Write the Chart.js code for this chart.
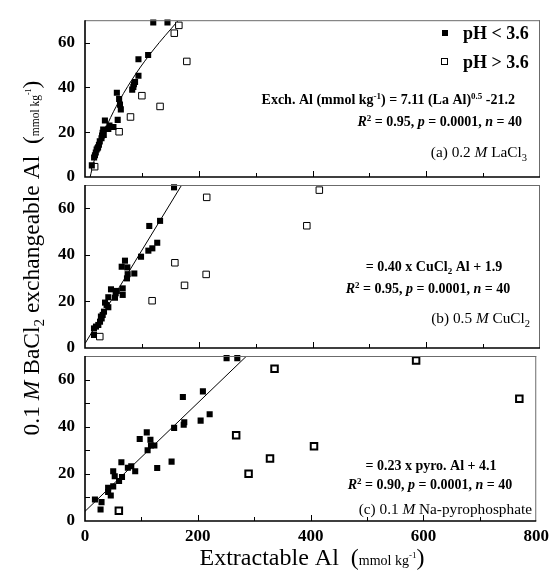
<!DOCTYPE html>
<html>
<head>
<meta charset="utf-8">
<script src="https://cdn.jsdelivr.net/npm/chart.js@4.4.0/dist/chart.umd.min.js"></script>
<style>
  body { margin: 0; background: #fff; }
  #wrap { position: relative; width: 554px; height: 572px; }
  #wrap canvas { position: absolute; left: 0; top: 0; }
</style>
</head>
<body>
<div id="wrap">
  <canvas id="chartA" width="554" height="572"></canvas>
  <canvas id="chartB" width="554" height="572"></canvas>
  <canvas id="chartC" width="554" height="572"></canvas>
</div>
<script>
// (a) 0.2 M LaCl3
const laDarkX = [120, 145, 111, 94, 94, 88, 86, 85, 83, 56, 60, 61.5, 63, 57.5, 35, 43, 50, 41, 32, 31, 33, 29, 26, 24.5, 23, 20.5, 19, 17.5, 16, 12, 30, 22];
const laDarkY = [69, 69, 54.5, 52.6, 45.2, 42.4, 41.4, 40.2, 39, 37.6, 34.8, 32.3, 30.2, 25.5, 25.2, 23, 22.3, 21.5, 21.2, 19.7, 18.8, 17.3, 15.9, 14.4, 13.3, 12.3, 10.9, 9.7, 8.7, 5.2, 18.5, 12.8];
const laOpenX = [165, 157, 179, 100, 132, 80, 60, 17];
const laOpenY = [67.7, 64.2, 51.6, 36.3, 31.5, 26.8, 20.2, 4.6];
const laFitX = [9, 15, 25, 40, 60, 90, 120, 163];
const laFitY = [0, 6.3, 14.4, 23.8, 33.9, 46.3, 56.7, 69.6];

// (b) 0.5 M CuCl2
const cuDarkX = [156.5, 113, 132, 127, 118.4, 111.4, 98.5, 70.3, 64.5, 74.4, 75, 86.7, 73.8, 45.7, 66.3, 66.3, 54, 52.7, 41, 35.2, 41, 33.4, 31.1, 29.3, 26.4, 23.4, 19.3, 15.8, 15.8, 56, 38, 28];
const cuDarkY = [69, 52.4, 54.6, 45.2, 42.8, 41.8, 39.2, 37.5, 34.9, 34.6, 31.7, 32, 29.9, 25.2, 25.6, 22.8, 23.5, 21.6, 21.8, 19.5, 17.5, 15.6, 14.2, 12.7, 11.3, 9.9, 9.2, 8.4, 5.6, 24.5, 18.5, 13.5];
const cuOpenX = [214, 158, 213, 175, 118, 26, 412, 390];
const cuOpenY = [64.7, 36.6, 31.6, 26.9, 20.3, 4.9, 67.8, 52.5];
const cuFitX = [0, 170];
const cuFitY = [1.9, 70];

// (c) 0.1 M Na-pyrophosphate
const pyDarkX = [251, 270, 209, 173.5, 221, 205, 176, 175, 158, 109.5, 97, 116, 117, 123, 111, 82, 76, 89, 128, 153.5, 64.5, 50, 52.7, 65.6, 60.4, 50, 41, 41, 45.7, 17.6, 29.3, 27.6];
const pyDarkY = [69.1, 69.1, 55, 52.6, 45.3, 42.6, 41.9, 40.8, 39.5, 37.6, 34.8, 34.5, 32, 32, 30, 23.2, 22.6, 21.1, 22.5, 25.2, 24.9, 21.1, 19, 18.7, 17, 14.7, 14.1, 12.3, 10.8, 9.1, 8, 4.9];
const pyOpenX = [60, 268, 290, 328, 336, 406, 587, 770];
const pyOpenY = [4.3, 36.4, 20, 26.5, 64.6, 31.7, 68.1, 51.9];
const pyFitX = [0, 287];
const pyFitY = [4.1, 70.1];

// axes
const xMin = 0, xMax = 800, xStep = 100, xLabelEvery = 200;
const yMin = 0, yMax = 70, yStep = 10, yLabelEvery = 20;

const SERIF = "'Liberation Serif', 'Times New Roman', serif";
const EQ = 14;     // equation text size
const LBL = 15.3;  // panel label size
const pts = (xs, ys) => xs.map((x, i) => ({ x: x, y: ys[i] }));

// draw a line of mixed text pieces: [text, size, style, yShift]
function richText(ctx, parts, x, y, align) {
  let w = 0;
  parts.forEach((p) => {
    ctx.font = (p[2] || "") + " " + p[1] + "px " + SERIF;
    p.w = ctx.measureText(p[0]).width;
    w += p.w;
  });
  let cx = align === "right" ? x - w : align === "center" ? x - w / 2 : x;
  parts.forEach((p) => {
    ctx.font = (p[2] || "") + " " + p[1] + "px " + SERIF;
    ctx.fillText(p[0], cx, y + (p[3] || 0));
    cx += p.w;
  });
}

const statLine = (r2) => [
  ["R", EQ, "italic bold"], ["2", 9, "bold", -5], [" = " + r2 + ", ", EQ, "bold"],
  ["p", EQ, "italic bold"], [" = 0.0001, ", EQ, "bold"],
  ["n", EQ, "italic bold"], [" = 40", EQ, "bold"],
];

const framePlugin = {
  id: "frame",
  afterDraw(chart) {
    const { ctx, chartArea: a, scales } = chart;
    ctx.save();
    ctx.strokeStyle = "#6b6b6b";
    ctx.lineWidth = 1;
    ctx.beginPath();
    ctx.moveTo(a.left, a.top + 0.5);
    ctx.lineTo(a.right, a.top + 0.5);
    ctx.moveTo(a.right - 0.5, a.top);
    ctx.lineTo(a.right - 0.5, a.bottom);
    ctx.stroke();
    ctx.strokeStyle = "#000";
    ctx.lineWidth = 1;
    ctx.beginPath();
    scales.x.ticks.forEach((t) => {
      if (t.value <= xMin || t.value >= xMax) return;
      const px = Math.round(scales.x.getPixelForValue(t.value)) + 0.5;
      const len = t.value % xLabelEvery === 0 ? 6 : 4;
      ctx.moveTo(px, a.bottom);
      ctx.lineTo(px, a.bottom - len);
    });
    scales.y.ticks.forEach((t) => {
      if (t.value <= yMin || t.value >= yMax) return;
      const py = Math.round(scales.y.getPixelForValue(t.value)) + 0.5;
      ctx.moveTo(a.left, py);
      ctx.lineTo(a.left + 5, py);
    });
    ctx.stroke();
    ctx.lineWidth = 1.6;
    ctx.beginPath();
    ctx.moveTo(a.left, a.top);
    ctx.lineTo(a.left, a.bottom);
    ctx.lineTo(a.right, a.bottom);
    ctx.stroke();
    ctx.restore();
  },
};

function makePanel(id, dark, open, fit, top, bottom, lastPanel, openBorder, textPlugin) {
  const xHeight = lastPanel ? 28 : 0;
  return new Chart(document.getElementById(id).getContext("2d"), {
    type: "scatter",
    data: {
      datasets: [
        {
          label: "pH < 3.6",
          data: dark,
          pointStyle: "rect",
          pointRadius: 4.3,
          backgroundColor: "#000",
          borderColor: "#000",
          borderWidth: 0,
          clip: 6,
        },
        {
          label: "pH > 3.6",
          data: open,
          pointStyle: "rect",
          pointRadius: 4.6,
          backgroundColor: "#fff",
          borderColor: "#000",
          borderWidth: openBorder,
          clip: 6,
        },
        {
          label: "fit",
          data: fit,
          showLine: true,
          pointRadius: 0,
          borderColor: "#000",
          borderWidth: 1,
          cubicInterpolationMode: "monotone",
          fill: false,
        },
      ],
    },
    options: {
      responsive: false,
      animation: false,
      events: [],
      layout: { padding: { top: top, bottom: 572 - bottom - xHeight, left: 0, right: 14 } },
      plugins: { legend: { display: false }, tooltip: { enabled: false } },
      scales: {
        x: {
          type: "linear",
          min: xMin,
          max: xMax,
          grid: { display: false, drawTicks: false },
          border: { display: false },
          ticks: {
            display: lastPanel,
            stepSize: xStep,
            padding: 5,
            color: "#000",
            font: { family: SERIF, size: 17, weight: "bold" },
            callback: (v) => (v % xLabelEvery === 0 ? v : ""),
          },
          afterFit: (s) => { s.height = xHeight; },
        },
        y: {
          min: yMin,
          max: yMax,
          grid: { display: false, drawTicks: false },
          border: { display: false },
          ticks: {
            stepSize: yStep,
            padding: 10,
            color: "#000",
            font: { family: SERIF, size: 17, weight: "bold" },
            callback: (v) => (v % yLabelEvery === 0 ? v : ""),
          },
          afterFit: (s) => { s.width = 85; },
        },
      },
    },
    plugins: [framePlugin, textPlugin],
  });
}

const textA = {
  id: "textA",
  afterDraw(chart) {
    const ctx = chart.ctx;
    ctx.save();
    ctx.fillStyle = "#000";
    ctx.textBaseline = "alphabetic";
    // legend
    ctx.fillRect(442, 30, 6, 6);
    ctx.strokeStyle = "#000";
    ctx.lineWidth = 1;
    ctx.strokeRect(441.5, 58.5, 6, 6);
    richText(ctx, [["pH < 3.6", 18, "bold"]], 463, 39, "left");
    richText(ctx, [["pH > 3.6", 18, "bold"]], 463, 68, "left");
    richText(ctx, [
      ["Exch. Al (mmol kg", EQ, "bold"], ["-1", 9, "bold", -5],
      [") = 7.11 (La Al)", EQ, "bold"], ["0.5", 9, "bold", -5], [" -21.2", EQ, "bold"],
    ], 515, 104, "right");
    richText(ctx, statLine("0.95"), 522, 126, "right");
    richText(ctx, [
      ["(a) 0.2 ", LBL], ["M", LBL, "italic"], [" LaCl", LBL], ["3", 10.5, "", 4],
    ], 527, 157, "right");
    ctx.restore();
  },
};

const textB = {
  id: "textB",
  afterDraw(chart) {
    const ctx = chart.ctx;
    ctx.save();
    ctx.fillStyle = "#000";
    richText(ctx, [
      ["= 0.40 x CuCl", EQ, "bold"], ["2", 9, "bold", 3], [" Al + 1.9", EQ, "bold"],
    ], 434, 271, "center");
    richText(ctx, statLine("0.95"), 428, 293, "center");
    richText(ctx, [
      ["(b) 0.5 ", LBL], ["M", LBL, "italic"], [" CuCl", LBL], ["2", 10.5, "", 4],
    ], 530, 323, "right");
    ctx.restore();
  },
};

const textC = {
  id: "textC",
  afterDraw(chart) {
    const ctx = chart.ctx;
    ctx.save();
    ctx.fillStyle = "#000";
    richText(ctx, [["= 0.23 x pyro. Al + 4.1", EQ, "bold"]], 431, 470, "center");
    richText(ctx, statLine("0.90"), 430, 489, "center");
    richText(ctx, [
      ["(c) 0.1 ", LBL], ["M", LBL, "italic"], [" Na-pyrophosphate", LBL],
    ], 532, 514, "right");
    // x axis title
    richText(ctx, [
      ["Extractable Al  ", 24], ["(", 24], ["mmol kg", 14], ["-1", 9, "", -7], [")", 24],
    ], 312, 565, "center");
    // y axis title
    ctx.translate(39, 258);
    ctx.rotate(-Math.PI / 2);
    richText(ctx, [
      ["0.1 ", 23.5], ["M", 23.5, "italic"], [" BaCl", 23.5], ["2", 15, "", 5],
      [" exchangeable Al  ", 23.5], ["(", 23.5], ["mmol kg", 11.5], ["-1", 8, "", -8], [")", 23.5],
    ], 0, 0, "center");
    ctx.restore();
  },
};

makePanel("chartA", pts(laDarkX, laDarkY), pts(laOpenX, laOpenY), pts(laFitX, laFitY), 14, 177, false, 1, textA);
makePanel("chartB", pts(cuDarkX, cuDarkY), pts(cuOpenX, cuOpenY), pts(cuFitX, cuFitY), 185, 348, false, 1, textB);
makePanel("chartC", pts(pyDarkX, pyDarkY), pts(pyOpenX, pyOpenY), pts(pyFitX, pyFitY), 356, 521, true, 2, textC);
</script>
</body>
</html>
